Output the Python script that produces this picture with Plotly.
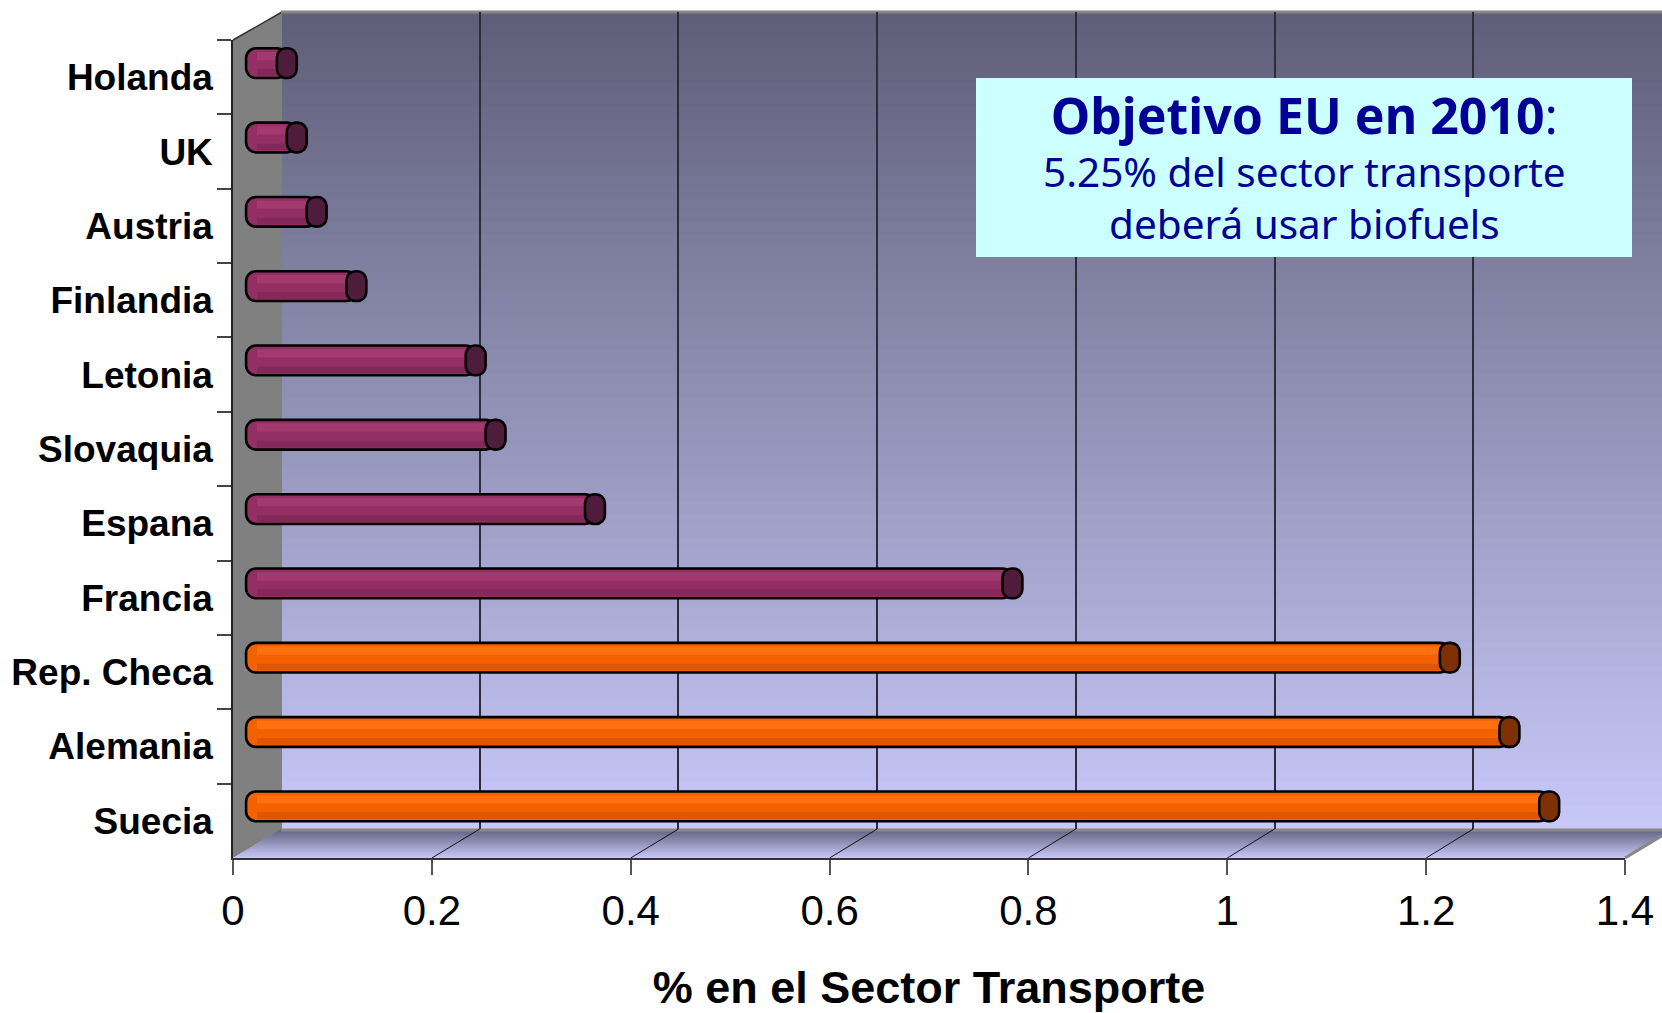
import plotly.graph_objects as go

# ---------------- data ----------------
countries = ["Holanda", "UK", "Austria", "Finlandia", "Letonia", "Slovaquia",
             "Espana", "Francia", "Rep. Checa", "Alemania", "Suecia"]
values = [0.03, 0.04, 0.06, 0.10, 0.22, 0.24, 0.34, 0.76, 1.20, 1.26, 1.30]
groups = ["resto"] * 8 + ["lider"] * 3
x_ticks = [0, 0.2, 0.4, 0.6, 0.8, 1, 1.2, 1.4]
x_tick_labels = ["0", "0.2", "0.4", "0.6", "0.8", "1", "1.2", "1.4"]
x_title = "% en el Sector Transporte"
box_title = "Objetivo EU en 2010"
box_line2 = "5.25% del sector transporte"
box_line3 = "deberá usar biofuels"

# ---------------- styling / geometry (pixels) ----------------
W, H = 1662, 1013
FRONT_X0, FRONT_X1 = 233, 1625          # front plane value axis 0..1.4
FRONT_Y0, FRONT_Y1 = 40, 858            # front plane category extent
BACK_X0, BACK_SCALE = 281, 993.5        # back wall
BACK_Y0, BACK_Y1 = 12, 829
MID_X0, MID_SCALE = 257, 994            # plane of the bars
MID_Y0, MID_Y1 = 26, 843.5
XMAX = 1.4
MID_XMIN = -0.02                        # room for the rounded left end

body_col = {"resto": "#932f63", "lider": "#f46200"}
hi_col = {"resto": "#a23a70", "lider": "#ff7010"}
lo_col = {"resto": "#84285a", "lider": "#df5500"}
cap_col = {"resto": "#4f1c3b", "lider": "#7f3000"}
END_EXT = 0.011      # rounded left end of the cylinders (style)
CAP_LEN = 0.02       # length of the dark end cap (style)
BAR_W = 0.40


def fx(px):
    return px / W


def fy(py):
    return 1 - py / H


def lerp(c0, c1, t):
    return "rgb(%d,%d,%d)" % tuple(round(a + (b - a) * t) for a, b in zip(c0, c1))


shapes = []

# back wall gradient
N = 70
top_c, bot_c = (94, 94, 120), (200, 200, 249)
for i in range(N):
    y0 = BACK_Y0 + (BACK_Y1 - BACK_Y0) * i / N
    y1 = BACK_Y0 + (BACK_Y1 - BACK_Y0) * (i + 1) / N + 1
    shapes.append(dict(type="rect", xref="paper", yref="paper", layer="below",
                       x0=fx(BACK_X0), x1=1, y0=fy(y0), y1=fy(min(y1, BACK_Y1)),
                       fillcolor=lerp(top_c, bot_c, (i + 0.5) / N), line=dict(width=0)))

# left side wall
shapes.append(dict(type="path", xref="paper", yref="paper", layer="below",
                   path="M %f %f L %f %f L %f %f L %f %f Z" % (
                       fx(FRONT_X0), fy(FRONT_Y0), fx(BACK_X0 + 1), fy(BACK_Y0),
                       fx(BACK_X0 + 1), fy(BACK_Y1), fx(FRONT_X0), fy(FRONT_Y1)),
                   fillcolor="#808080", line=dict(width=0)))
shapes.append(dict(type="line", xref="paper", yref="paper", layer="below",
                   x0=fx(FRONT_X0), y0=fy(FRONT_Y0), x1=fx(BACK_X0 + 1), y1=fy(BACK_Y0),
                   line=dict(color="#333333", width=1.5)))
# top border of back wall
shapes.append(dict(type="line", xref="paper", yref="paper", layer="below",
                   x0=fx(BACK_X0), y0=fy(BACK_Y0), x1=1, y1=fy(BACK_Y0),
                   line=dict(color="#858585", width=3)))

# floor gradient (trapezoid strips)
front_right = FRONT_X1
dy_depth = FRONT_Y1 - BACK_Y1


def floor_left(y):
    return FRONT_X0 + (FRONT_Y1 - y) * (BACK_X0 - FRONT_X0) / dy_depth


def floor_right(y):
    return min(W, front_right + (FRONT_Y1 - y) * (BACK_X0 - FRONT_X0) / dy_depth)


ycut = FRONT_Y1 - (W - front_right) * dy_depth / (BACK_X0 - FRONT_X0)
NF = 16
ftop, fbot = (96, 96, 126), (200, 200, 248)
for i in range(NF):
    ya = BACK_Y1 + dy_depth * i / NF
    yb = min(FRONT_Y1, BACK_Y1 + dy_depth * (i + 1) / NF + 0.8)
    pts = [(floor_left(ya), ya), (floor_right(ya), ya), (floor_right(yb), yb), (floor_left(yb), yb)]
    if ya < ycut < yb:
        pts = [(floor_left(ya), ya), (W, ya), (W, ycut), (floor_right(yb), yb), (floor_left(yb), yb)]
    path = "M " + " L ".join("%f %f" % (fx(a), fy(b)) for a, b in pts) + " Z"
    shapes.append(dict(type="path", xref="paper", yref="paper", layer="below", path=path,
                       fillcolor=lerp(ftop, fbot, (i + 0.5) / NF), line=dict(width=0)))
# floor border lines
shapes.append(dict(type="line", xref="paper", yref="paper", layer="below",
                   x0=fx(BACK_X0), y0=fy(BACK_Y1 + 1), x1=1, y1=fy(BACK_Y1 + 1),
                   line=dict(color="#888888", width=3)))
shapes.append(dict(type="line", xref="paper", yref="paper", layer="below",
                   x0=fx(front_right), y0=fy(FRONT_Y1), x1=1, y1=fy(ycut),
                   line=dict(color="#888888", width=3)))
# floor diagonal grid lines
for t in x_ticks[1:-1]:
    xf = FRONT_X0 + (FRONT_X1 - FRONT_X0) * t / XMAX
    xb = BACK_X0 + BACK_SCALE * t
    shapes.append(dict(type="line", xref="paper", yref="paper", layer="below",
                       x0=fx(xf), y0=fy(FRONT_Y1), x1=fx(xb), y1=fy(BACK_Y1),
                       line=dict(color="#111111", width=1)))

# annotation box
BOX = (976, 78, 1632, 257)
shapes.append(dict(type="rect", xref="paper", yref="paper", layer="above",
                   x0=fx(BOX[0]), x1=fx(BOX[2]), y0=fy(BOX[3]), y1=fy(BOX[1]),
                   fillcolor="#ccffff", line=dict(width=0)))

# ---------------- traces ----------------
traces = []
# back wall grid subplot (registers the subplot)
traces.append(go.Scatter(x=[], y=[], xaxis="x", yaxis="y", showlegend=False, hoverinfo="skip"))

# cylinder body (with a small rounded extension left of 0)
traces.append(go.Bar(orientation="h", base=values, x=[-(v + END_EXT) for v in values],
                     y=countries, xaxis="x2", yaxis="y2", width=BAR_W,
                     marker=dict(color=[body_col[g] for g in groups], cornerradius=10,
                                 line=dict(color="#000000", width=2.6)),
                     showlegend=False, hoverinfo="skip"))
traces.append(go.Bar(orientation="h", x=values, y=countries, xaxis="x2", yaxis="y2",
                     width=0.11, offset=-0.15,
                     marker=dict(color=[hi_col[g] for g in groups], line=dict(width=0)),
                     showlegend=False, hoverinfo="skip"))
traces.append(go.Bar(orientation="h", x=values, y=countries, xaxis="x2", yaxis="y2",
                     width=0.09, offset=0.08,
                     marker=dict(color=[lo_col[g] for g in groups], line=dict(width=0)),
                     showlegend=False, hoverinfo="skip"))
# dark end cap centred on the value
traces.append(go.Bar(orientation="h", x=[CAP_LEN] * len(values),
                     base=[v - CAP_LEN / 2 for v in values],
                     y=countries, xaxis="x2", yaxis="y2", width=BAR_W,
                     marker=dict(color=[cap_col[g] for g in groups], cornerradius=9,
                                 line=dict(color="#000000", width=2.6)),
                     customdata=values, hovertemplate="%{y}: %{customdata}<extra></extra>",
                     showlegend=False))
# front axes subplot (category labels)
traces.append(go.Scatter(x=values, y=countries, xaxis="x3", yaxis="y3", mode="markers",
                         marker=dict(opacity=0), showlegend=False, hoverinfo="skip"))

fig = go.Figure(traces)

AR = "Arial, Liberation Sans, sans-serif"
fig.update_layout(
    width=W, height=H, autosize=False,
    margin=dict(l=0, r=0, t=0, b=0),
    paper_bgcolor="white", plot_bgcolor="rgba(0,0,0,0)",
    barmode="overlay", shapes=shapes,
    font=dict(family=AR, color="black"),
    xaxis=dict(domain=[fx(BACK_X0), 1], range=[0, (W - BACK_X0) / BACK_SCALE],
               tickvals=x_ticks[1:-1], showticklabels=False, ticks="",
               showgrid=True, gridcolor="#2c2c3c", gridwidth=1.5,
               zeroline=False, showline=False, anchor="y", fixedrange=True, automargin=False),
    yaxis=dict(domain=[fy(BACK_Y1), fy(BACK_Y0)], range=[0, 1], visible=False,
               anchor="x", fixedrange=True),
    xaxis2=dict(domain=[fx(MID_X0 + MID_XMIN * MID_SCALE), fx(MID_X0 + XMAX * MID_SCALE)],
                range=[MID_XMIN, XMAX], visible=False, anchor="y2", fixedrange=True),
    yaxis2=dict(domain=[fy(MID_Y1), fy(MID_Y0)], type="category", categoryorder="array",
                categoryarray=countries, range=[len(countries) - 0.5, -0.5],
                visible=False, anchor="x2", fixedrange=True),
    xaxis3=dict(domain=[fx(FRONT_X0), fx(FRONT_X1)], range=[0, XMAX],
                tickvals=x_ticks, ticktext=x_tick_labels, ticks="outside", ticklen=15,
                tickcolor="#555555", tickwidth=1.5, showline=True, linecolor="#333333",
                linewidth=1.5, showgrid=False, zeroline=False,
                tickfont=dict(size=42, family=AR),
                title=dict(text="<b>" + x_title + "</b>", standoff=48,
                           font=dict(size=45, family=AR)),
                anchor="y3", fixedrange=True, automargin=False),
    yaxis3=dict(domain=[fy(FRONT_Y1), fy(FRONT_Y0)], type="category", categoryorder="array",
                categoryarray=countries, range=[len(countries) - 0.5, -0.5],
                ticks="outside", ticklen=14, tickson="boundaries", tickcolor="#444444",
                tickwidth=1.5, showline=True, linecolor="#222222", linewidth=1.5,
                showgrid=False, zeroline=False, ticklabelstandoff=11,
                tickfont=dict(size=37, family=AR),
                tickprefix="<b>", ticksuffix="</b>",
                anchor="x3", fixedrange=True, automargin=False),
)

cx = fx((BOX[0] + BOX[2]) / 2)
navy = "#000096"
NS = "Noto Sans, DejaVu Sans, sans-serif"
box_text = ("<span style='font-size:50px'><b>" + box_title + "</b>:</span><br>"
            + box_line2 + "<br>" + box_line3)
fig.add_annotation(x=cx, y=fy(165.5), xref="paper", yref="paper", showarrow=False,
                   xanchor="center", yanchor="middle", align="center", text=box_text,
                   font=dict(size=40.5, color=navy, family=NS))

fig.write_html("out.html", config={"displayModeBar": False},
               post_script="document.body.style.margin='0px';document.body.style.overflow='hidden';")
